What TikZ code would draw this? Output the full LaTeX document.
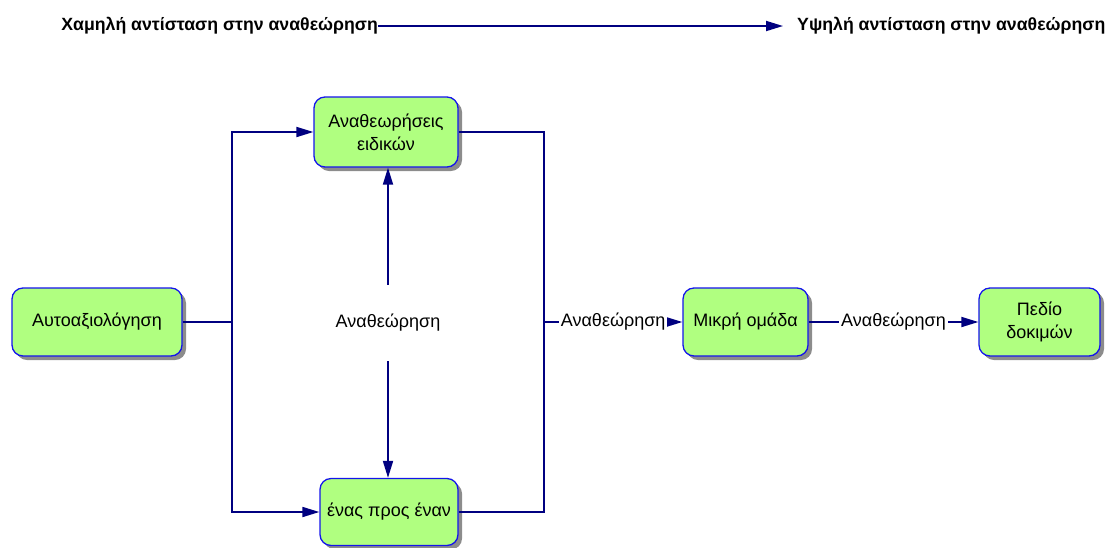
\documentclass[tikz,border=0pt]{standalone}
\usepackage{fontspec}
\setmainfont{Liberation Sans}
\usetikzlibrary{arrows.meta,shadows}
\definecolor{linenavy}{RGB}{0,0,128}
\definecolor{boxfill}{RGB}{176,255,128}
\definecolor{boxedge}{RGB}{20,20,235}
\tikzset{
  stagebox/.style={draw=boxedge, line width=1.3pt, fill=boxfill, rounded corners=11pt,
    align=center, inner sep=0pt, font=\fontsize{18}{23}\selectfont,
    drop shadow={shadow xshift=4pt, shadow yshift=-4pt, fill=black!45, opacity=1}},
  flow/.style={draw=linenavy, line width=1.8pt},
  flowarrow/.style={flow, -{Triangle[length=17pt,width=10pt]}},
  lbl/.style={font=\fontsize{18}{23}\selectfont, fill=white, inner sep=2pt},
  head/.style={font=\bfseries\fontsize{17.7}{22}\selectfont, inner sep=0pt}
}
\begin{document}
\begin{tikzpicture}[x=1pt, y=-1pt]
\useasboundingbox (0,0) rectangle (1110,547);

% scale of resistance to review
\node[head, anchor=east] (low) at (378,26) {Χαμηλή αντίσταση στην αναθεώρηση};
\node[head, anchor=west] (high) at (797,26) {Υψηλή αντίσταση στην αναθεώρηση};
\draw[flowarrow] (low.east) -- ([xshift=-14pt]high.west);

% stages
\node[stagebox, minimum width=144pt, minimum height=70pt] (experts) at (386,132) {Αναθεωρήσεις\\ειδικών};
\node[stagebox, minimum width=170pt, minimum height=68pt] (self) at (97,322) {Αυτοαξιολόγηση};
\node[stagebox, minimum width=138pt, minimum height=67pt] (one) at (389,512) {ένας προς έναν};
\node[stagebox, minimum width=125pt, minimum height=68pt] (group) at (745.5,322) {Μικρή ομάδα};
\node[stagebox, minimum width=121pt, minimum height=68pt] (field) at (1039.5,322) {Πεδίο\\δοκιμών};

% review label between the two early stages
\node[font=\fontsize{18}{23}\selectfont, minimum height=76pt, inner sep=0pt] (mid) at (388,323) {Αναθεώρηση};

\coordinate (split) at (232,322);
\coordinate (join) at (544,322);

% left branching
\draw[flow] (self.east) -- (split);
\draw[flowarrow] (split) |- (experts.west);
\draw[flowarrow] (split) |- (one.west);

% middle arrows
\draw[flowarrow] (mid.north) -- (mid.north |- experts.south);
\draw[flowarrow] (mid.south) -- (mid.south |- one.north);

% right merging
\draw[flow] (experts.east) -| (join);
\draw[flow] (one.east) -| (join);

% onward stages
\draw[flowarrow] (join) -- node[lbl] (rev1) {Αναθεώρηση} (group.west);
\draw[flowarrow] (group.east) -- node[lbl] (rev2) {Αναθεώρηση} (field.west);
\end{tikzpicture}
\end{document}
